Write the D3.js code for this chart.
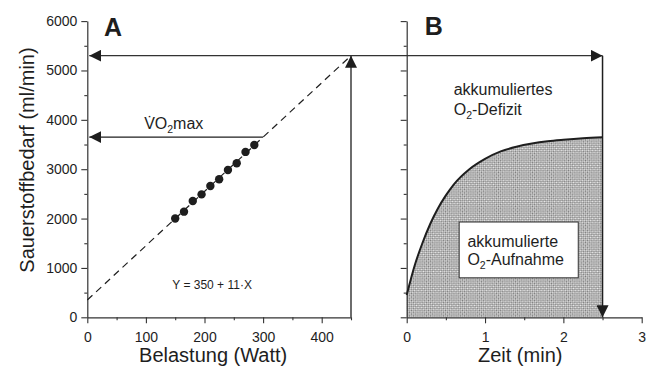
<!DOCTYPE html>
<html>
<head>
<meta charset="utf-8">
<script src="https://cdn.jsdelivr.net/npm/d3@7/dist/d3.min.js"></script>
<style>
  html, body { margin: 0; padding: 0; background: #fff; }
  svg { display: block; font-family: "Liberation Sans", Arial, Helvetica, sans-serif; }
</style>
</head>
<body>
<svg id="chart" width="653" height="369"></svg>
<script>
// Panel A: oxygen demand vs. workload (ramp test)
const loadWatts   = [150, 165, 180, 195, 210, 225, 240, 255, 270, 285];
const demandMlMin = [2000, 2140, 2355, 2490, 2660, 2795, 2985, 3120, 3350, 3490];
const fitIntercept = 350;   // Y = 350 + 11·X
const fitSlope = 11;
const vo2maxWatt = 300;     // load at which VO2max is reached
const supraWatt = 450;      // supramaximal test load

// Panel B: oxygen uptake during the supramaximal bout
const timeMin  = [0, 0.1, 0.2, 0.3, 0.4, 0.5, 0.6, 0.8, 1.0, 1.2, 1.4, 1.6, 1.8, 2.0, 2.25, 2.5];
const uptakeMl = [450, 1040, 1500, 1890, 2210, 2470, 2690, 3000, 3210, 3360, 3455, 3520, 3565, 3595, 3625, 3645];
const boutEnd = 2.5;

// Axis ticks
const yMajor = [0, 1000, 2000, 3000, 4000, 5000, 6000];
const yMinor = [500, 1500, 2500, 3500, 4500, 5500];
const xAMajor = [0, 100, 200, 300, 400];
const xAMinor = [50, 150, 250, 350, 450];
const xBMajor = [0, 1, 2, 3];
const xBMinor = [0.5, 1.5, 2.5];

const svg = d3.select("#chart");
const ink = "#1e1e1e";
const fmt = d3.format("d");

const y  = d3.scaleLinear().domain([0, 6000]).range([317.3, 21.1]);
const xA = d3.scaleLinear().domain([0, 450]).range([87.3, 351]);
const xB = d3.scaleLinear().domain([0, 3]).range([406.7, 641.7]);

const defs = svg.append("defs");
// cross-hatched fill
const pat = defs.append("pattern")
  .attr("id", "xhatch").attr("patternUnits", "userSpaceOnUse")
  .attr("width", 3).attr("height", 3)
  .attr("patternTransform", "rotate(45)");
pat.append("rect").attr("width", 3).attr("height", 3).attr("fill", "#ebebeb");
pat.append("rect").attr("width", 1.5).attr("height", 1.5).attr("fill", "#7a7a7a");
pat.append("rect").attr("x", 1.5).attr("y", 1.5).attr("width", 1.5).attr("height", 1.5).attr("fill", "#7a7a7a");

defs.append("marker")
  .attr("id", "head").attr("viewBox", "0 0 12 12")
  .attr("refX", 12).attr("refY", 6)
  .attr("markerWidth", 12).attr("markerHeight", 12)
  .attr("markerUnits", "userSpaceOnUse")
  .attr("orient", "auto-start-reverse")
  .append("path").attr("d", "M0,0 L12,6 L0,12 Z").attr("fill", ink);

const tickFont = 14;

function styleAxis(g) {
  g.selectAll("path.domain").attr("stroke", "#333").attr("stroke-width", 1.2);
  g.selectAll(".tick line").attr("stroke", "#333").attr("stroke-width", 1.1);
  g.selectAll(".tick text").attr("fill", ink).attr("font-size", tickFont)
    .attr("font-family", "Liberation Sans, Arial, sans-serif");
}

// ---------- Panel B fill first (under axes and curve) ----------
const bPts = timeMin.map((t, i) => [t, uptakeMl[i]]);
const area = d3.area().x(d => xB(d[0])).y0(y(0)).y1(d => y(d[1])).curve(d3.curveMonotoneX);
svg.append("path").datum(bPts).attr("d", area).attr("fill", "url(#xhatch)");

// ---------- Panel A axes ----------
const gAy = svg.append("g").attr("transform", `translate(${xA(0)},0)`)
  .call(d3.axisLeft(y).tickValues(yMajor).tickFormat(fmt).tickSize(6).tickPadding(4).tickSizeOuter(0));
styleAxis(gAy);
svg.append("g").attr("transform", `translate(${xA(0)},0)`)
  .call(d3.axisLeft(y).tickValues(yMinor).tickSize(3).tickFormat("").tickSizeOuter(0))
  .call(g => { g.select("path.domain").remove(); styleAxis(g); });

const gAx = svg.append("g").attr("transform", `translate(0,${y(0)})`)
  .call(d3.axisBottom(xA).tickValues(xAMajor).tickFormat(fmt).tickSize(6).tickPadding(9).tickSizeOuter(0));
styleAxis(gAx);
svg.append("g").attr("transform", `translate(0,${y(0)})`)
  .call(d3.axisBottom(xA).tickValues(xAMinor).tickSize(3).tickFormat("").tickSizeOuter(0))
  .call(g => { g.select("path.domain").remove(); styleAxis(g); });

// ---------- Panel B axes ----------
const gBy = svg.append("g").attr("transform", `translate(${xB(0)},0)`)
  .call(d3.axisLeft(y).tickValues(yMajor).tickSize(6).tickFormat("").tickSizeOuter(0));
styleAxis(gBy);
svg.append("g").attr("transform", `translate(${xB(0)},0)`)
  .call(d3.axisLeft(y).tickValues(yMinor).tickSize(3).tickFormat("").tickSizeOuter(0))
  .call(g => { g.select("path.domain").remove(); styleAxis(g); });

const gBx = svg.append("g").attr("transform", `translate(0,${y(0)})`)
  .call(d3.axisBottom(xB).tickValues(xBMajor).tickFormat(fmt).tickSize(6).tickPadding(9).tickSizeOuter(0));
styleAxis(gBx);
svg.append("g").attr("transform", `translate(0,${y(0)})`)
  .call(d3.axisBottom(xB).tickValues(xBMinor).tickSize(3).tickFormat("").tickSizeOuter(0))
  .call(g => { g.select("path.domain").remove(); styleAxis(g); });

// ---------- Panel A marks ----------
const fit = w => fitIntercept + fitSlope * w;
svg.append("line")
  .attr("x1", xA(0)).attr("y1", y(fit(0)))
  .attr("x2", xA(supraWatt)).attr("y2", y(fit(supraWatt)))
  .attr("stroke", ink).attr("stroke-width", 1.2).attr("stroke-dasharray", "7,5");

svg.append("g").selectAll("circle")
  .data(loadWatts.map((w, i) => [w, demandMlMin[i]]))
  .join("circle")
  .attr("cx", d => xA(d[0])).attr("cy", d => y(d[1]))
  .attr("r", 4.2).attr("fill", ink);

// VO2max arrow
svg.append("line")
  .attr("x1", xA(vo2maxWatt)).attr("y1", y(fit(vo2maxWatt)))
  .attr("x2", xA(0) + 2).attr("y2", y(fit(vo2maxWatt)))
  .attr("stroke", ink).attr("stroke-width", 1.3).attr("marker-end", "url(#head)");

// Supramaximal demand: up from the load axis
svg.append("line")
  .attr("x1", xA(supraWatt)).attr("y1", y(0))
  .attr("x2", xA(supraWatt)).attr("y2", y(fit(supraWatt)))
  .attr("stroke", ink).attr("stroke-width", 1.3).attr("marker-end", "url(#head)");

// Demand level carried across both panels
svg.append("line")
  .attr("x1", xA(0) + 2).attr("y1", y(fit(supraWatt)))
  .attr("x2", xB(boutEnd)).attr("y2", y(fit(supraWatt)))
  .attr("stroke", "#333").attr("stroke-width", 1.4)
  .attr("marker-start", "url(#head)").attr("marker-end", "url(#head)");

svg.append("line")
  .attr("x1", xB(boutEnd)).attr("y1", y(fit(supraWatt)))
  .attr("x2", xB(boutEnd)).attr("y2", y(0))
  .attr("stroke", ink).attr("stroke-width", 1.5).attr("marker-end", "url(#head)");

// ---------- Panel B curve ----------
const line = d3.line().x(d => xB(d[0])).y(d => y(d[1])).curve(d3.curveMonotoneX);
svg.append("path").datum(bPts).attr("d", line)
  .attr("fill", "none").attr("stroke", ink).attr("stroke-width", 2);

// ---------- Labels ----------
const txt = (x, yy, s, size, opts = {}) => {
  const t = svg.append("text").attr("x", x).attr("y", yy)
    .attr("font-size", size).attr("fill", ink);
  if (opts.anchor) t.attr("text-anchor", opts.anchor);
  if (opts.weight) t.attr("font-weight", opts.weight);
  if (s !== null) t.text(s);
  return t;
};

txt(104, 36, "A", 25, { weight: "bold" });
txt(xB(0) + 18, 34.5, "B", 25, { weight: "bold" });

// VO2max with dot accent (combining dot above) and subscript
const vt = txt(xA(97), y(3810), null, 16);
vt.append("tspan").text("V\u0307O");
vt.append("tspan").attr("font-size", 10.5).attr("dy", 4).text("2");
vt.append("tspan").attr("dy", -4).text("max");

txt(xA(145), y(570), "Y = 350 + 11·X", 12);

txt(xB(0.6), y(4500), "akkumuliertes", 16);
const dt = txt(xB(0.6), y(4100), null, 16);
dt.append("tspan").text("O");
dt.append("tspan").attr("font-size", 10.5).attr("dy", 4).text("2");
dt.append("tspan").attr("dy", -4).text("-Defizit");

// box for accumulated uptake
svg.append("rect")
  .attr("x", xB(0.67)).attr("y", y(1930))
  .attr("width", xB(2.19) - xB(0.67)).attr("height", y(800) - y(1930))
  .attr("fill", "#fff").attr("stroke", "#333").attr("stroke-width", 1);
txt(xB(0.775), y(1430), "akkumulierte", 16);
const ut = txt(xB(0.775), y(1065), null, 16);
ut.append("tspan").text("O");
ut.append("tspan").attr("font-size", 10.5).attr("dy", 4).text("2");
ut.append("tspan").attr("dy", -4).text("-Aufnahme");

// Axis titles
txt((xA(0) + xA(450)) / 2 - 6, 362, "Belastung (Watt)", 20, { anchor: "middle" });
txt((xB(0) + xB(3)) / 2 - 4, 362, "Zeit (min)", 20, { anchor: "middle" });
svg.append("text")
  .attr("transform", "translate(34,160) rotate(-90)")
  .attr("text-anchor", "middle").attr("font-size", 20).attr("fill", ink)
  .text("Sauerstoffbedarf (ml/min)");
</script>
</body>
</html>
